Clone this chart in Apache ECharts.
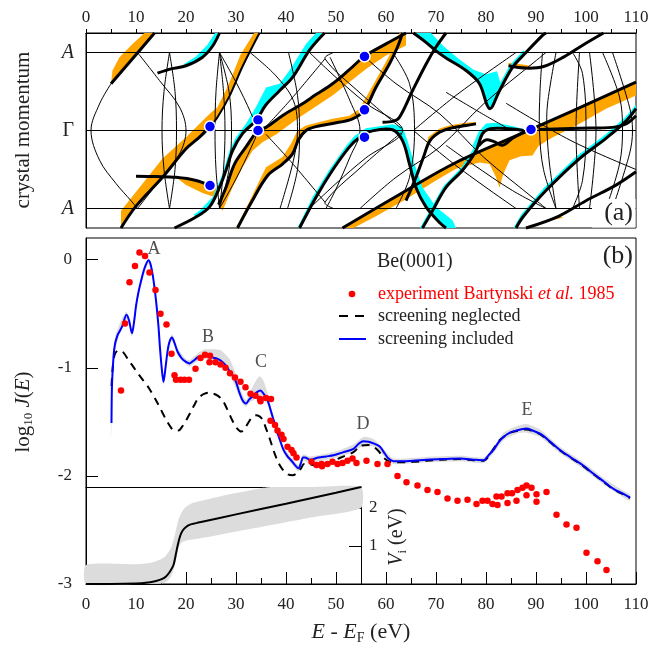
<!DOCTYPE html>
<html><head><meta charset="utf-8">
<script src="https://cdn.jsdelivr.net/npm/echarts@6/dist/echarts.min.js"></script>
<style>html,body{margin:0;padding:0;background:#fff}#c{width:671px;height:651px}</style>
</head><body><div id="c"></div>
<script>
// ---------------- Panel (b): log10 J(E) ----------------
const screeningIncluded = [[5.1,-1.51],[5.2,-1.16],[5.5,-0.9],[5.8,-0.78],[6.3,-0.7],[6.7,-0.665],[7.3,-0.61],[8.1,-0.51],[8.6,-0.56],[9.2,-0.68],[9.6,-0.58],[10,-0.43],[10.5,-0.3],[11,-0.2],[11.7,-0.08],[12.5,-0.005],[12.9,-0.04],[13.3,-0.13],[13.7,-0.26],[14.1,-0.42],[14.5,-0.62],[14.8,-0.82],[15.2,-1.03],[15.5,-1.13],[15.9,-1.0],[16.3,-0.85],[16.7,-0.76],[17.2,-0.72],[17.7,-0.77],[18.3,-0.85],[19.1,-0.91],[20,-0.945],[20.7,-0.96],[21.5,-0.935],[22.3,-0.905],[23,-0.893],[23.7,-0.886],[24.5,-0.89],[25.3,-0.905],[26.2,-0.915],[27,-0.935],[28,-0.98],[28.7,-1.03],[29.3,-1.07],[30,-1.13],[30.6,-1.22],[31.3,-1.3],[32,-1.33],[32.7,-1.29],[33.5,-1.256],[34.2,-1.225],[34.9,-1.21],[35.5,-1.24],[36.1,-1.28],[36.6,-1.34],[37.1,-1.42],[37.7,-1.51],[38.2,-1.59],[38.8,-1.67],[39.5,-1.76],[40.3,-1.82],[41.1,-1.86],[41.8,-1.9],[42.5,-1.93],[43,-1.88],[43.4,-1.83],[43.8,-1.83],[44.8,-1.85],[46.5,-1.83],[48,-1.82],[49.5,-1.81],[51.5,-1.78],[53.5,-1.75],[54.6,-1.7],[55.5,-1.68],[56.5,-1.685],[57.5,-1.7],[58.8,-1.73],[59.7,-1.79],[60.5,-1.84],[61.5,-1.865],[63,-1.865],[65.5,-1.86],[68.1,-1.85],[71,-1.845],[74.8,-1.84],[77.5,-1.85],[79.5,-1.856],[80.5,-1.81],[81.5,-1.76],[82.5,-1.69],[83.5,-1.64],[84.8,-1.6],[86.1,-1.58],[87.1,-1.568],[88.1,-1.563],[89.3,-1.58],[90.8,-1.61],[92.5,-1.67],[94.8,-1.76],[97,-1.83],[99.3,-1.9],[101.5,-1.98],[103.5,-2.05],[105.5,-2.12],[107.2,-2.16],[108.8,-2.2]];
const screeningNeglected = [[5.1,-1.17],[5.4,-0.97],[5.8,-0.87],[6.5,-0.84],[7.5,-0.86],[8.5,-0.93],[9.3,-0.98],[10.5,-1.06],[11.5,-1.12],[12.6,-1.19],[14,-1.3],[15,-1.39],[15.9,-1.47],[16.8,-1.54],[17.6,-1.58],[18.5,-1.58],[19.3,-1.54],[20,-1.49],[20.8,-1.42],[21.6,-1.35],[22.5,-1.28],[23.5,-1.245],[24.5,-1.23],[25.5,-1.24],[26.4,-1.26],[27.3,-1.3],[28.2,-1.38],[29.3,-1.49],[30.2,-1.56],[31.1,-1.59],[31.9,-1.55],[32.7,-1.49],[33.4,-1.45],[34,-1.44],[34.7,-1.45],[35.3,-1.48],[36,-1.56],[36.7,-1.65],[37.7,-1.79],[38.5,-1.88],[39.3,-1.94],[40.3,-1.985],[41.3,-1.995],[42.3,-1.97],[43,-1.93],[43.6,-1.89],[44.5,-1.89],[45.5,-1.9],[47,-1.89],[49,-1.87],[51,-1.83],[53.5,-1.78],[55,-1.72],[56.5,-1.715],[57.5,-1.73],[58.5,-1.77],[59.5,-1.83],[60.8,-1.87],[62,-1.875],[65.5,-1.87],[68.1,-1.86],[71,-1.85],[74.8,-1.845],[77.5,-1.855],[79.5,-1.86],[80.5,-1.82],[81.5,-1.75],[82.5,-1.68],[83.5,-1.64],[84.8,-1.6],[86.1,-1.585],[88.1,-1.57],[89.3,-1.585],[90.8,-1.615],[92.5,-1.675],[94.8,-1.765],[97,-1.835],[99.3,-1.905],[101.5,-1.985],[103.5,-2.055],[105.5,-2.125],[107.2,-2.165],[108.8,-2.205]];
const experiment = [[7.0,-1.21],[7.8,-0.59],[8.7,-0.21],[9.8,-0.06],[10.7,0.065],[11.8,0.034],[12.7,-0.12],[13.9,-0.28],[14.9,-0.50],[16.1,-0.60],[17.1,-0.87],[17.7,-1.07],[18.0,-1.11],[18.9,-1.11],[19.7,-1.11],[20.6,-1.11],[21.9,-1.01],[22.9,-0.91],[23.8,-0.88],[24.8,-0.89],[24.7,-0.95],[25.9,-0.95],[26.9,-0.97],[27.9,-1.00],[28.8,-1.05],[29.8,-1.09],[30.9,-1.13],[31.9,-1.18],[32.9,-1.24],[33.9,-1.26],[34.8,-1.29],[34.9,-1.31],[36.0,-1.28],[37.0,-1.29],[36.9,-1.49],[37.8,-1.53],[38.3,-1.58],[39.1,-1.62],[39.5,-1.66],[40.3,-1.73],[41.1,-1.76],[41.5,-1.79],[42.1,-1.83],[45.1,-1.87],[46.1,-1.90],[47.1,-1.89],[47.2,-1.91],[48.3,-1.89],[49.3,-1.87],[50.3,-1.89],[51.3,-1.88],[52.3,-1.86],[53.3,-1.84],[54.1,-1.88],[56.1,-1.86],[58.3,-1.89],[60.3,-1.89],[62.3,-2.00],[64.1,-2.06],[66.3,-2.09],[68.3,-2.13],[70.3,-2.15],[72.3,-2.21],[74.3,-2.23],[76.3,-2.22],[78.1,-2.26],[79.3,-2.23],[80.3,-2.23],[81.3,-2.26],[82.3,-2.27],[82.1,-2.19],[83.1,-2.19],[84.3,-2.25],[84.3,-2.16],[85.2,-2.16],[86.1,-2.23],[86.3,-2.13],[87.3,-2.11],[88.1,-2.09],[88.1,-2.18],[89.1,-2.11],[90.1,-2.17],[90.1,-2.24],[92.1,-2.15],[94.1,-2.36],[96.1,-2.45],[98.1,-2.48],[100.1,-2.71],[102.3,-2.79],[104.1,-2.87]];
const bandE  = [5.0,5.3,5.8,6.5,8.1,9.2,10,11,12.5,13.3,14.1,15,15.5,16.3,17.2,18.3,20,20.7,22.3,23.7,25.3,27,28.7,30,31.3,32,32.7,33.5,34.4,34.9,35.5,36.1,37.1,38.2,39.5,41.1,42.5,43.4,44.8,49.5,53.5,55.5,57.5,59.7,61.5,68.1,74.8,79.5,81.5,83.5,86.1,88.1,90.8,94.8,99.3,103.5,107.2,108.8];
const bandLo = [-1.68,-1.2,-0.85,-0.72,-0.55,-0.71,-0.46,-0.23,-0.04,-0.16,-0.45,-0.95,-1.16,-0.88,-0.75,-0.88,-0.97,-0.99,-0.94,-0.92,-0.94,-0.97,-1.07,-1.19,-1.33,-1.36,-1.32,-1.3,-1.27,-1.26,-1.28,-1.31,-1.45,-1.62,-1.79,-1.89,-1.96,-1.86,-1.88,-1.84,-1.78,-1.72,-1.73,-1.82,-1.89,-1.875,-1.865,-1.88,-1.79,-1.67,-1.61,-1.6,-1.64,-1.79,-1.93,-2.08,-2.19,-2.23];
const bandHi = [-1.45,-1.05,-0.72,-0.62,-0.48,-0.65,-0.4,-0.16,0.01,-0.1,-0.39,-0.88,-1.1,-0.82,-0.69,-0.82,-0.92,-0.93,-0.87,-0.83,-0.83,-0.84,-0.92,-1.06,-1.25,-1.3,-1.24,-1.16,-1.09,-1.08,-1.12,-1.2,-1.38,-1.56,-1.73,-1.83,-1.9,-1.8,-1.82,-1.78,-1.71,-1.64,-1.66,-1.76,-1.84,-1.825,-1.815,-1.83,-1.73,-1.6,-1.54,-1.52,-1.57,-1.73,-1.87,-2.02,-2.13,-2.17];
const peakNames = ['A','B','C','D','E'];
const peakPos = [[13.6,0.1],[24.4,-0.72],[35.0,-0.95],[55.4,-1.52],[88.2,-1.39]];

// ---------------- Inset: V_i(E) ----------------
const viCurve = [[0,0],[5,0],[10,0.01],[12,0.03],[14,0.08],[15,0.12],[16,0.2],[16.8,0.33],[17.5,0.5],[18,0.8],[18.4,1.05],[18.8,1.25],[19.3,1.4],[20,1.5],[20.8,1.56],[22,1.6],[23,1.63],[30,1.83],[40,2.11],[50,2.4],[55,2.55]];
const viBandE  = [0,10,13,15,16,17,17.8,18.5,19.2,20,21.3,25,30,35,37,45,55];
const viBandLo = [0,0,0,0.01,0.05,0.2,0.5,0.95,1.1,1.14,1.17,1.25,1.38,1.5,1.55,1.75,2.0];
const viBandHi = [0.5,0.52,0.56,0.65,0.75,0.95,1.3,1.7,1.9,2.03,2.13,2.25,2.39,2.52,2.55,2.55,2.55];

// ---------------- Panel (a): band structure, points are [E, k] ----------------
const momentumTicks = [-1,0,1];
const momentumNames = ['A','Γ','A'];
const levelLines = [[[0,1],[110,1]],[[0,0],[110,0]],[[0,-1],[110,-1]]];
const thinLines = [
 [[5,0.6],[2.7,0.34],[1,0],[2.7,-0.38],[6,-0.68],[9,-0.9],[10.3,-1]],
 [[10.3,1],[14.7,0.64],[18.7,0.3],[20,0],[18.7,-0.3],[14.7,-0.64],[10.3,-1]],
 [[16.7,1],[15.6,0.5],[15.2,0],[15.6,-0.5],[16.7,-1]],
 [[16.7,1],[17.8,0.5],[18.1,0],[17.8,-0.5],[16.7,-1]],
 [[26.7,1],[26,0.5],[25.8,0],[26,-0.5],[26.7,-1]],
 [[26.7,1],[27.5,0.5],[27.8,0],[27.5,-0.5],[26.7,-1]],
 [[26.7,1],[28.6,0.5],[29.1,0],[28.6,-0.5],[26.7,-1]],
 [[26.7,1],[30,0.62],[33,0.22],[34.2,0],[33,-0.22],[30,-0.62],[26.7,-1]],
 [[32.8,1],[38,0.7],[41.5,0.38],[42.3,0],[41.5,-0.38],[38.8,-1]],
 [[40.5,1],[42.3,0.45],[42.7,0],[42.3,-0.5],[40.3,-1]],
 [[44.7,1],[50,0.68],[56,0.35],[63.3,0],[56,-0.35],[50,-0.68],[44.7,-1]],
 [[49.5,1],[47.8,0.92],[55,0.47],[63,0.03]],
 [[49.5,-1],[47.8,-0.92],[55,-0.47],[63,-0.03]],
 [[36,0.05],[41,0.4],[47.8,0.92]],
 [[36,-0.05],[41,-0.4],[47.8,-0.92]],
 [[48.8,0.94],[52.8,0.38],[54.8,0],[52.8,-0.34],[50,-0.75],[48,-1]],
 [[54.8,1],[62,0.6],[70.8,0.21],[79.5,-0.34],[90.1,-0.9],[92,-1]],
 [[54.8,-1],[62,-0.6],[70.8,-0.21],[79.5,0.34],[90.1,0.9],[92,1]],
 [[61.3,1],[64.7,0.6],[65.7,0],[64.7,-0.6],[62,-1]],
 [[65.5,0],[74,0.45],[86,1]],
 [[65.5,0],[74,-0.45],[86,-1]],
 [[91.3,1],[90.8,0.5],[90.7,0],[91.5,-0.5],[94,-1]],
 [[94,1],[92.3,0.34],[92.2,0],[92.7,-0.43],[94,-1]],
 [[97.3,1],[99.3,0.73],[100,0],[99.3,-0.64],[97.3,-1]],
 [[98.7,1],[98,0],[98.7,-1]],
 [[100.7,1],[102,0],[100.7,-1]],
 [[103.3,1],[106.7,0.43],[107.3,0],[106.7,-0.43],[104,-1]],
 [[105.3,1],[108.7,0.3],[109.3,0],[108.7,-0.3],[105.3,-1]],
 [[84,0.35],[97,-0.13],[110,-0.5]],
 [[72,-0.19],[77.3,-0.43],[85.3,-0.77],[92,-1]],
 [[72,0.49],[78.7,0.235],[84,0.04]]
];
const thickLines = [
 [[7,-1.25],[10,-0.97],[15.3,-0.6],[20,-0.235],[22.7,-0.085],[24.8,0.05]],
 [[5,0.6],[9.3,0.92],[13.7,1.25]],
 [[14.3,0.735],[17,0.79],[20,0.83],[23.3,0.94],[25.3,1.08],[26.7,1.25]],
 [[10,-0.585],[14,-0.59],[18,-0.6],[22,-0.64],[24.8,-0.705]],
 [[17.7,-1.25],[22,-1.11],[24.7,-0.98],[26.7,-0.73],[28,-0.51],[29.3,-0.26],[31.3,-0.04],[34,0.13],[36,0.33],[38.7,0.51],[41.3,0.68],[44.7,1.03],[47.7,1.25]],
 [[26.5,-0.95],[28,-0.73],[29.7,-0.43],[32,-0.21],[34.4,0],[36,0.04],[39.5,0.2],[42.7,0.32],[46,0.46],[49.3,0.6],[52.5,0.77],[55.7,0.95],[60,1.11],[64,1.25]],
 [[30.3,-1.25],[33,-0.93],[36.3,-0.58],[39.3,-0.43],[41.3,-0.3],[42.5,-0.12],[44,0.0],[46,0.05],[49.3,0.09],[53.3,0.15],[55.7,0.265],[58,0.555],[60.7,0.855],[62.3,1.07],[63.3,1.25]],
 [[42.7,-1.25],[46,-0.855],[49.3,-0.51],[52.7,-0.21],[54.7,-0.09],[57.3,-0.005],[61.3,0.01],[63.3,-0.13],[64.7,-0.43],[66,-0.73],[68,-0.98],[70.7,-1.18],[72,-1.25]],
 [[51.3,-1.25],[62.7,-0.82],[74,-0.41],[89,0.013],[110,0.62]],
 [[59.3,0.107],[61.5,0.12],[62.7,0.17],[65.3,0.51],[68,0.85],[70,1.07],[72,1.25]],
 [[65.5,1.25],[68,1.13],[70,1.02],[72,0.93],[76,0.77],[78.7,0.6],[80.7,0.28],[82.7,0.51],[85.3,0.81],[88,1.0],[91.3,1.22],[92,1.25]],
 [[67.3,-1.25],[69.3,-1.03],[72,-0.73],[75.3,-0.51],[78,-0.26],[79.3,-0.04],[80.7,0.02],[82.7,0.03],[85.3,0.02],[87.5,0.0]],
 [[90.5,0.013],[98.7,0.03],[105.3,0.04],[108,0.085],[110,0.19]],
 [[84.5,0.83],[88,0.8],[91.5,0.82],[95.5,0.94],[99.5,1.1],[103.5,1.25]],
 [[86,-1.25],[87.5,-1.1],[92,-0.77],[98.7,-0.36],[104,-0.1],[108,0.12],[110,0.28]],
 [[88,-1.25],[94.5,-1.1],[100,-0.9],[106,-0.7],[110,-0.53]],
 [[78.5,-0.2],[80,-0.12],[81.5,-0.14],[83.3,-0.19],[85.3,-0.1],[87.3,-0.03],[89,0.013]],
 [[64,-0.9],[66,-0.6],[67.5,-0.34],[68.8,-0.13],[70.8,-0.02],[73,0.03],[76,0.064],[78,0.085]]
];
const mediumLines = [
 [[24.8,0.05],[26.3,0.17],[28.7,0.44],[31.3,0.82],[34.7,1.25]]
];
const orangeAreas = [
 [[5,0.6],[5.3,0.77],[6.7,0.94],[9.3,1.11],[11.7,1.25],[13.7,1.25],[9.3,0.92]],
 [[7,-1.25],[7,-1.03],[10.7,-0.73],[15.3,-0.36],[20,-0.085],[22.7,0.085],[24.7,0.21],[26.3,0.3],[26.6,0.19],[24.8,0.05],[22.7,-0.085],[20,-0.235],[15.3,-0.6],[10,-0.97]],
 [[26.3,0.3],[28.4,0.57],[30.9,0.97],[33.6,1.25],[34.7,1.25],[31.3,0.82],[28.7,0.44],[26.5,0.19]],
 [[18,-0.6],[20,-0.7],[23.3,-0.8],[26,-0.86],[26.8,-0.77],[25.5,-0.72],[24.8,-0.705],[22,-0.64]],
 [[27.3,-1.03],[29.3,-0.73],[31.3,-0.47],[33.3,-0.26],[35.3,-0.15],[38,-0.05],[42.7,0.17],[49.3,0.45],[56,0.79],[60,0.96],[64,1.09],[64,1.25],[60,1.11],[55.7,0.95],[52.5,0.77],[49.3,0.6],[46,0.46],[42.7,0.32],[39.5,0.2],[36,0.04],[34.4,0],[32,-0.21],[29.7,-0.43],[28,-0.73],[26.5,-0.95]],
 [[30,-1.25],[32.6,-0.92],[36,-0.47],[39.3,-0.34],[41,-0.17],[42.3,0.0],[44,0.064],[49.3,0.15],[52.7,0.19],[54.7,0.28],[57.3,0.57],[60,0.88],[61.8,1.1],[62.7,1.25],[63.3,1.25],[62.3,1.07],[60.7,0.855],[58,0.555],[55.7,0.265],[53.3,0.15],[49.3,0.09],[46,0.05],[44,0.0],[42.5,-0.12],[41.3,-0.3],[39.3,-0.43],[36.3,-0.58],[33,-0.93],[30.3,-1.25]],
 [[51.3,-1.25],[53.5,-1.25],[58,-1.1],[64,-0.88],[70,-0.64],[74,-0.49],[78.7,-0.41],[80.7,-0.43],[82,-0.6],[82.7,-0.73],[83.5,-0.55],[84.7,-0.38],[87,-0.33],[89.3,-0.32],[90.5,-0.2],[93,-0.1],[98.7,0.085],[104,0.28],[110,0.45],[110,0.62],[89,0.013],[74,-0.41],[62.7,-0.82]],
 [[67.5,-0.3],[68.5,-0.08],[70.8,0.03],[73,0.07],[76,0.1],[78,0.11],[78,0.085],[76,0.064],[73,0.03],[70.8,-0.02],[68.8,-0.13],[67.5,-0.34]],
 [[89,-1.25],[93,-1.15],[95.5,-1.12],[94.5,-1.1],[90,-1.2],[88,-1.25]],
 [[84.5,0.87],[87,0.85],[89,0.83],[88,0.8],[84.5,0.83]]
];
const cyanAreas = [
 [[19.5,0.85],[22,0.95],[24.3,1.1],[25.8,1.25],[26.7,1.25],[25.3,1.08],[23.3,0.94],[20,0.83]],
 [[21.5,-1.08],[22.7,-1.03],[25.3,-0.855],[27.3,-0.56],[28.7,-0.26],[30,-0.085],[32,0.085],[34,0.3],[36,0.55],[38.7,0.6],[40.7,0.77],[44,1.11],[46,1.25],[47.7,1.25],[44.7,1.03],[41.3,0.68],[38.7,0.51],[36,0.33],[34,0.13],[31.3,-0.04],[29.3,-0.26],[28,-0.51],[26.7,-0.73],[24.7,-0.98],[22,-1.11]],
 [[42.3,-1.25],[45.3,-0.855],[48.7,-0.5],[52,-0.2],[53.7,-0.07],[56,0.03],[58.7,0.055],[61.3,0.08],[63.3,0.045],[64.3,-0.13],[65.7,-0.43],[67.3,-0.73],[70,-0.98],[73.3,-1.15],[74,-1.25],[72,-1.25],[70.7,-1.18],[68,-0.98],[66,-0.73],[64.7,-0.43],[63.3,-0.13],[61.3,0.01],[57.3,-0.005],[54.7,-0.09],[52.7,-0.21],[49.3,-0.51],[46,-0.855],[42.7,-1.25]],
 [[66.3,1.25],[69,1.25],[71.5,1.08],[74.5,0.92],[77.5,0.78],[80,0.72],[82.2,0.76],[83,0.58],[81.6,0.34],[80.7,0.28],[78.7,0.6],[76,0.77],[72,0.93],[70,1.02],[68,1.13],[65.5,1.25]],
 [[77.3,-0.2],[78.5,-0.02],[80,0.09],[82,0.1],[85,0.06],[87.5,0.02],[87.5,0],[85.3,0.02],[82.7,0.03],[80.7,0.02],[79.3,-0.04],[78,-0.26]],
 [[66.8,-1.25],[68.8,-1.02],[71.5,-0.71],[75,-0.48],[77.6,-0.22],[78,-0.26],[75.3,-0.51],[72,-0.73],[69.3,-1.03],[67.3,-1.25]],
 [[85.5,-1.25],[87,-1.08],[91.5,-0.74],[98.3,-0.32],[103.7,-0.06],[107.7,0.16],[110,0.33],[110,0.28],[108,0.12],[104,-0.1],[98.7,-0.36],[92,-0.77],[87.5,-1.1],[86,-1.25]],
 [[82.3,0.55],[84.8,0.84],[87.5,1.03],[88,1.0],[85.3,0.81],[82.7,0.51]]
];
const crossingDots = [[24.8,0.05],[24.8,-0.705],[34.4,0.135],[34.4,0],[55.7,0.95],[55.7,0.265],[55.7,-0.085],[89,0.013]];

// ---------------- rendering ----------------
const FONT = 'Liberation Serif';
const TXT = '#222';
function polyRenderer(list, fill){
  return function(params, api){
    const pts = list[params.dataIndex].map(p => api.coord(p));
    return {type:'polygon', shape:{points:pts}, style:{fill:fill, stroke:null}};
  };
}
function lineRenderer(list, width, smooth){
  return function(params, api){
    const pts = list[params.dataIndex].map(p => api.coord(p));
    return {type:'polyline', shape:{points:pts, smooth:smooth}, style:{stroke:'#000', lineWidth:width, fill:null}};
  };
}
function bandRenderer(E, lo, hi, fill){
  return function(params, api){
    const pts = [];
    for (let i=0;i<E.length;i++) pts.push(api.coord([E[i], hi[i]]));
    for (let i=E.length-1;i>=0;i--) pts.push(api.coord([E[i], lo[i]]));
    return {type:'polygon', shape:{points:pts, smooth:0.2}, style:{fill:fill, stroke:null}};
  };
}
function idx(list){ return list.map((_, i) => [i]); }
function custom(a, list, render, z){
  return {type:'custom', xAxisIndex:a, yAxisIndex:a, data:idx(list), renderItem:render, z:z, silent:true, animation:false};
}

const chart = echarts.init(document.getElementById('c'), null, {renderer:'canvas'});
const axisLab = {fontFamily:FONT, fontSize:17, color:TXT};
const blackLine = {onZero:false, lineStyle:{color:'#000', width:1}};
chart.setOption({
  animation:false,
  backgroundColor:'#fff',
  grid:[
    {left:86, top:33, width:550, height:195, show:true, borderColor:'#000', borderWidth:1, backgroundColor:'transparent'},
    {left:86, top:238, width:550, height:346, show:true, borderColor:'#000', borderWidth:1, backgroundColor:'transparent'},
    {left:86, top:487, width:275, height:97, show:false}
  ],
  xAxis:[
    {gridIndex:0, type:'value', position:'top', min:0, max:110, interval:10,
     axisLine:blackLine, axisTick:{show:true, length:4, lineStyle:{color:'#000'}},
     minorTick:{show:true, splitNumber:2, length:4, lineStyle:{color:'#000'}},
     axisLabel:Object.assign({margin:7}, axisLab), splitLine:{show:false}},
    {gridIndex:1, type:'value', position:'bottom', min:0, max:110, interval:10,
     axisLine:blackLine, axisTick:{show:true, inside:true, length:12, lineStyle:{color:'#000'}},
     minorTick:{show:true, splitNumber:2, length:6, lineStyle:{color:'#000'}},
     axisLabel:Object.assign({margin:12}, axisLab), splitLine:{show:false}},
    {gridIndex:2, type:'value', position:'top', min:0, max:55,
     axisLine:blackLine, axisTick:{show:false}, axisLabel:{show:false}, splitLine:{show:false}}
  ],
  yAxis:[
    {gridIndex:0, type:'value', position:'left', min:-1.25, max:1.25,
     axisLine:blackLine, axisTick:{show:false}, splitLine:{show:false},
     axisLabel:{customValues:momentumTicks, margin:12,
       formatter:v => { const n = momentumNames[momentumTicks.indexOf(v)]; return n === 'Γ' ? '{g|Γ}' : '{a|' + n + '}'; },
       rich:{a:{fontFamily:FONT, fontSize:20, fontStyle:'italic', color:TXT}, g:{fontFamily:FONT, fontSize:20, color:TXT}}}},
    {gridIndex:1, type:'value', position:'left', min:-3, max:0.2, interval:1,
     axisLine:blackLine, axisTick:{show:true, inside:true, length:12, lineStyle:{color:'#000'}},
     axisLabel:Object.assign({margin:14, showMaxLabel:false}, axisLab), splitLine:{show:false}},
    {gridIndex:2, type:'value', position:'right', min:0, max:2.55, interval:1,
     axisLine:blackLine, axisTick:{show:true, inside:true, length:12, lineStyle:{color:'#000'}},
     axisLabel:Object.assign({margin:8, showMaxLabel:false, showMinLabel:false}, axisLab), splitLine:{show:false}}
  ],
  series:[
    // panel (a)
    custom(0, orangeAreas, polyRenderer(orangeAreas, '#ffa500'), 1),
    custom(0, cyanAreas, polyRenderer(cyanAreas, '#00ffff'), 1),
    custom(0, levelLines, lineRenderer(levelLines, 1, 0), 2),
    custom(0, thinLines, lineRenderer(thinLines, 1, 0.35), 2),
    custom(0, mediumLines, lineRenderer(mediumLines, 2, 0.35), 3),
    custom(0, thickLines, lineRenderer(thickLines, 3, 0.35), 3),
    {type:'scatter', xAxisIndex:0, yAxisIndex:0, data:crossingDots, symbolSize:11, z:6,
     itemStyle:{color:'#0000ff', borderColor:'#fff', borderWidth:1.5, opacity:1}},
    // panel (b)
    {type:'custom', xAxisIndex:1, yAxisIndex:1, data:[[0]], renderItem:bandRenderer(bandE, bandLo, bandHi, '#dcdcdc'), z:1, silent:true},
    {type:'line', name:'screening neglected', xAxisIndex:1, yAxisIndex:1, data:screeningNeglected, smooth:0.3, showSymbol:false, z:3,
     lineStyle:{color:'#000', width:2, type:[8,6]}},
    {type:'line', name:'screening included', xAxisIndex:1, yAxisIndex:1, data:screeningIncluded, smooth:0.3, showSymbol:false, z:4,
     lineStyle:{color:'#0000ff', width:2}},
    {type:'scatter', name:'experiment', xAxisIndex:1, yAxisIndex:1, data:experiment, symbolSize:6.5, z:5,
     itemStyle:{color:'#ff0000', opacity:1}},
    {type:'scatter', xAxisIndex:1, yAxisIndex:1, symbolSize:0, z:6,
     data:peakPos.map((p, i) => ({name:peakNames[i], value:p})),
     label:{show:true, position:'inside', formatter:'{b}', fontFamily:FONT, fontSize:18, color:TXT}},
    // inset
    {type:'custom', xAxisIndex:2, yAxisIndex:2, data:[[0]], renderItem:bandRenderer(viBandE, viBandLo, viBandHi, '#dcdcdc'), z:2, silent:true},
    {type:'line', xAxisIndex:2, yAxisIndex:2, data:viCurve, smooth:0.3, showSymbol:false, z:3,
     lineStyle:{color:'#000', width:2}}
  ],
  graphic:[
    {type:'text', x:23, y:130, rotation:Math.PI/2, z:10,
     style:{text:'crystal momentum', font:'21px "Liberation Serif"', fill:TXT, align:'center', verticalAlign:'middle'}},
    {type:'text', x:23, y:412, rotation:Math.PI/2, z:10,
     style:{text:'{n|log}{s|10}{n| }{i|J}{n|(}{i|E}{n|)}', align:'center', verticalAlign:'middle',
       rich:{n:{font:'21px "Liberation Serif"', fill:TXT, lineHeight:24},
             i:{font:'italic 21px "Liberation Serif"', fill:TXT, lineHeight:24},
             s:{font:'13px "Liberation Serif"', fill:TXT, lineHeight:10, verticalAlign:'bottom'}}}},
    {type:'text', x:361, y:632, z:10,
     style:{text:'{i|E}{n| - }{i|E}{s|F}{n| (eV)}', align:'center', verticalAlign:'middle',
       rich:{n:{font:'22px "Liberation Serif"', fill:TXT, lineHeight:26},
             i:{font:'italic 22px "Liberation Serif"', fill:TXT, lineHeight:26},
             s:{font:'14px "Liberation Serif"', fill:TXT, lineHeight:10, verticalAlign:'bottom'}}}},
    {type:'text', x:397, y:537, rotation:Math.PI/2, z:10,
     style:{text:'{i|V}{s|i}{n| (eV)}', align:'center', verticalAlign:'middle',
       rich:{n:{font:'20px "Liberation Serif"', fill:TXT, lineHeight:24},
             i:{font:'italic 20px "Liberation Serif"', fill:TXT, lineHeight:24},
             s:{font:'13px "Liberation Serif"', fill:TXT, lineHeight:10, verticalAlign:'bottom'}}}},
    {type:'text', x:377, y:262, z:10, style:{text:'Be(0001)', font:'20px "Liberation Serif"', fill:TXT, verticalAlign:'middle'}},
    {type:'circle', shape:{cx:352, cy:294, r:3.3}, style:{fill:'#ff0000'}, z:10},
    {type:'text', x:378, y:294, z:10,
     style:{text:'{n|experiment Bartynski }{i|et al.}{n| 1985}', verticalAlign:'middle',
       rich:{n:{font:'18px "Liberation Serif"', fill:'#ff0000'}, i:{font:'italic 18px "Liberation Serif"', fill:'#ff0000'}}}},
    {type:'line', shape:{x1:339, y1:316, x2:366, y2:316}, style:{stroke:'#000', lineWidth:2, lineDash:[9,7]}, z:10},
    {type:'text', x:378, y:316, z:10, style:{text:'screening neglected', font:'18px "Liberation Serif"', fill:TXT, verticalAlign:'middle'}},
    {type:'line', shape:{x1:339, y1:339, x2:366, y2:339}, style:{stroke:'#0000ff', lineWidth:2}, z:10},
    {type:'text', x:378, y:339, z:10, style:{text:'screening included', font:'18px "Liberation Serif"', fill:TXT, verticalAlign:'middle'}},
    {type:'text', x:633, y:256, z:10, style:{text:'(b)', font:'26px "Liberation Serif"', fill:TXT, align:'right', verticalAlign:'middle'}},
    {type:'rect', shape:{x:592, y:199, width:43.5, height:28.5}, style:{fill:'#fff'}, z:9},
    {type:'text', x:633, y:213, z:10, style:{text:'(a)', font:'26px "Liberation Serif"', fill:TXT, align:'right', verticalAlign:'middle'}}
  ]
});
</script></body></html>
